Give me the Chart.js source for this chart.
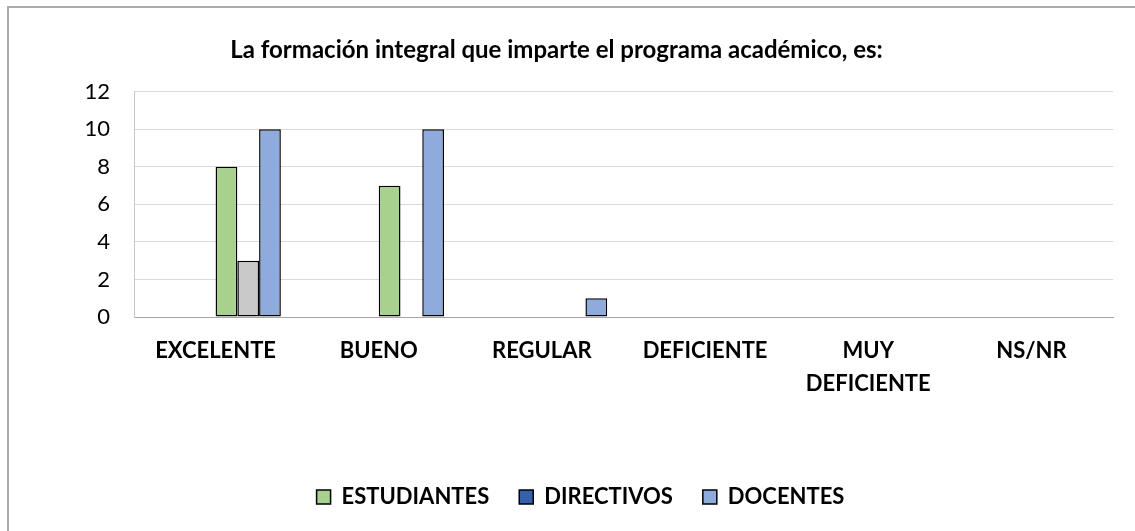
<!DOCTYPE html>
<html>
<head>
<meta charset="utf-8">
<script src="https://cdn.jsdelivr.net/npm/chart.js@4.4.1/dist/chart.umd.min.js"></script>
<style>
  html, body { margin: 0; padding: 0; background: #fff; overflow: hidden; width: 1135px; height: 531px; }
  #frame { position: absolute; left: 7px; top: 6px; width: 2000px; height: 2000px; border-left: 2px solid #ABABAB; border-top: 2px solid #ABABAB; }
  #wrap { position: absolute; left: 0; top: 0; width: 1135px; height: 560px; }
</style>
</head>
<body>
<div id="frame"></div>
<div id="wrap"><canvas id="c"></canvas></div>
<script>
const titleText = 'La formación integral que imparte el programa académico, es:';
const categories = ['EXCELENTE', 'BUENO', 'REGULAR', 'DEFICIENTE', ['MUY', 'DEFICIENTE'], 'NS/NR'];
const yTicks = [0, 2, 4, 6, 8, 10, 12];
// three empty series that occupy the first half of each group (as in the original workbook)
const emptySlotA = [null, null, null, null, null, null];
const emptySlotB = [null, null, null, null, null, null];
const emptySlotC = [null, null, null, null, null, null];
const estudiantes = [8, 7, 0, 0, 0, 0];
const directivos = [3, 0, 0, 0, 0, 0];
const docentes = [10, 10, 1, 0, 0, 0];
const seriesNames = ['ESTUDIANTES', 'DIRECTIVOS', 'DOCENTES'];

const GREEN = '#A9D18E', DARKBLUE = '#3560AA', LIGHTBLUE = '#8FAADC', GRAY = '#C9C9C9';
const directivosColors = [GRAY, DARKBLUE, DARKBLUE, DARKBLUE, DARKBLUE, DARKBLUE];
const legendColors = { ESTUDIANTES: GREEN, DIRECTIVOS: DARKBLUE, DOCENTES: LIGHTBLUE };

const legendShift = {
  id: 'legendShift',
  afterLayout(chart) {
    const lg = chart.legend;
    if (lg) { lg.left += 24; lg.right += 24; }
  }
};

const barCommon = { borderColor: '#000', borderWidth: 1.5, borderSkipped: false };

new Chart(document.getElementById('c'), {
  type: 'bar',
  data: {
    labels: categories,
    datasets: [
      { label: '', data: emptySlotA },
      { label: '', data: emptySlotB },
      { label: '', data: emptySlotC },
      Object.assign({ label: seriesNames[0], data: estudiantes, backgroundColor: GREEN }, barCommon),
      Object.assign({ label: seriesNames[1], data: directivos, backgroundColor: directivosColors }, barCommon),
      Object.assign({ label: seriesNames[2], data: docentes, backgroundColor: LIGHTBLUE }, barCommon)
    ]
  },
  options: {
    responsive: true,
    maintainAspectRatio: false,
    animation: false,
    datasets: { bar: { categoryPercentage: 0.8, barPercentage: 1.0 } },
    layout: { padding: { left: 0, right: 22, top: 0, bottom: 42 } },
    scales: {
      x: {
        grid: { display: false, drawTicks: false },
        border: { display: true, color: '#A6A6A6', width: 1 },
        ticks: {
          color: '#000', padding: 18, maxRotation: 0, autoSkip: false,
          font: { family: 'Lato', size: 22, weight: 'bold', lineHeight: 1.48 }
        },
        afterFit: s => { s.height = 139; }
      },
      y: {
        min: 0, max: 12,
        afterBuildTicks: s => { s.ticks = yTicks.map(v => ({ value: v })); },
        grid: { color: '#D9D9D9', lineWidth: 1, drawTicks: false },
        border: { display: true, color: '#C8C8C8', width: 1 },
        ticks: { color: '#000', padding: 24, font: { family: 'Lato', size: 22 } },
        afterFit: s => { s.width = 134; }
      }
    },
    plugins: {
      title: {
        display: true, text: titleText, color: '#000',
        font: { family: 'Lato', size: 24, weight: 'bold', lineHeight: 1.2 },
        padding: { top: 36, bottom: 27 }
      },
      legend: {
        position: 'bottom',
        labels: {
          color: '#000', boxWidth: 14, boxHeight: 14, padding: 30,
          font: { family: 'Lato', size: 22, weight: 'bold' },
          filter: item => item.text !== '',
          generateLabels: chart => Chart.defaults.plugins.legend.labels.generateLabels(chart)
            .map(it => Object.assign(it, { fillStyle: legendColors[it.text] || it.fillStyle, strokeStyle: '#000', lineWidth: 1.5 }))
        }
      },
      tooltip: { enabled: false }
    }
  },
  plugins: [legendShift]
});
</script>
</body>
</html>
